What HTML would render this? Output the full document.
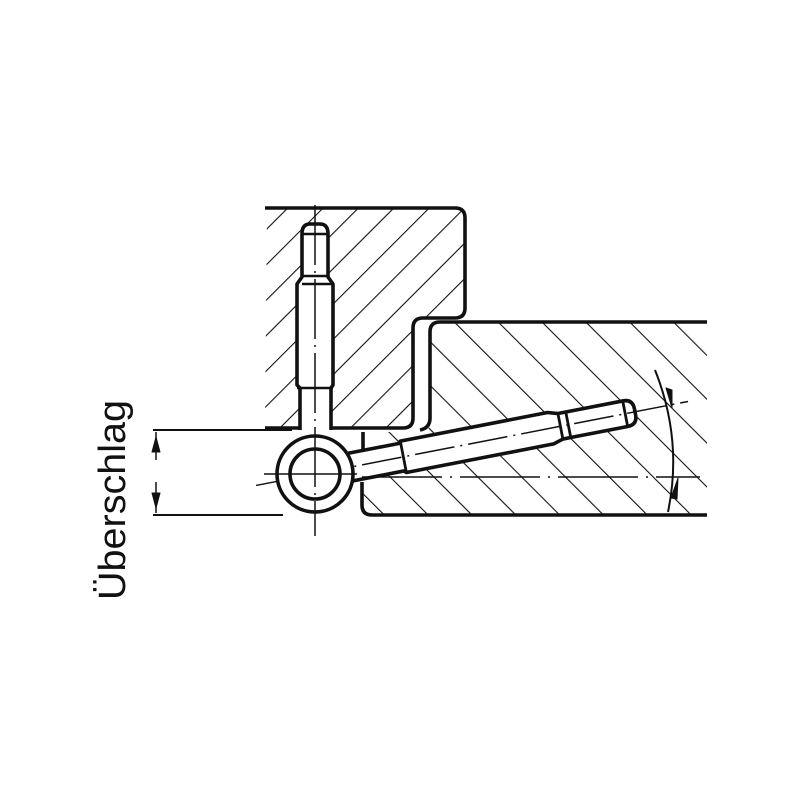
<!DOCTYPE html>
<html><head><meta charset="utf-8"><style>html,body{margin:0;padding:0;background:#fff}svg{display:block}</style></head>
<body>
<svg width="800" height="800" viewBox="0 0 800 800" xmlns="http://www.w3.org/2000/svg">
<defs>
<pattern id="h1" patternUnits="userSpaceOnUse" width="25" height="25" patternTransform="rotate(45)">
<line x1="0" y1="0" x2="0" y2="25" stroke="#111" stroke-width="2.2"/></pattern>
<pattern id="h2" patternUnits="userSpaceOnUse" width="31" height="31" patternTransform="rotate(-45)">
<line x1="0" y1="0" x2="0" y2="31" stroke="#111" stroke-width="2.2"/></pattern>
</defs>
<g fill="none" stroke="#111" stroke-width="3.6" stroke-linejoin="round">
<!-- top block -->
<path d="M267,208 L455,208 Q465,208 465,218 L465,308 Q465,318 455,318 L423,318 Q413,318 413,328 L413,418 Q413,428 403,428 L265,428 Z" fill="url(#h1)" stroke="none"/>
<path d="M265,208 L455,208 Q465,208 465,218 L465,308 Q465,318 455,318 L423,318 Q413,318 413,328 L413,418 Q413,428 403,428 L265,428"/>
<!-- lower block -->
<path d="M440,322 L707,322 L707,515 L372,515 Q362,515 362,505 L362,432 L420,432 Q430,432 430,422 L430,332 Q430,322 440,322 Z" fill="url(#h2)" stroke="none"/>
<path d="M707,322 L440,322 Q430,322 430,332 L430,418 Q430,428 420,430"/>
<path d="M707,515 L372,515 Q362,515 362,505 L362,482"/>
<path d="M363,432 L363,452"/>
<!-- vertical pin -->
<path d="M300,430 L300,388 L297,385 L297,284 L302,277 L302,234 Q302,224 310,224 L320,224 Q328,224 328,234 L328,277 L333,284 L333,385 L331,388 L331,430" fill="#fff"/>
<path d="M302,234 L328,234 M302,276 L328,276 M302,284 L333,284 M297,388 L333,388" stroke-width="2.5"/>
<!-- angled pin -->
<g transform="translate(315,474) rotate(-11)">
<path d="M30,-14 L88,-14 L90,-16 L240,-16 L250,-13 L258,-13 L316,-13 Q326,-13 326,-3 L326,3 Q326,13 316,13 L258,13 L250,13 L240,16 L90,16 L88,14 L30,14" fill="#fff"/>
<path d="M90,-16 L90,16 M250,-13 L250,13 M258,-13 L258,13 M316,-13 L316,13" stroke-width="2.8"/>
<line x1="-60" y1="0" x2="380" y2="0" stroke-width="1.5" stroke-dasharray="40,6,2,6"/>
</g>
<!-- ring -->
<circle cx="315" cy="474" r="38" fill="#fff"/>
<circle cx="315" cy="474" r="25"/>
<line x1="264" y1="474" x2="357" y2="474" stroke-width="1.5"/>
<line x1="315" y1="205" x2="315" y2="536" stroke-width="1.5" stroke-dasharray="60,6,2,6"/>
<line x1="362" y1="477" x2="700" y2="477" stroke-width="1.5" stroke-dasharray="80,8,2,8"/>
<!-- angle arc -->
<path d="M655,370 Q683,440 668,512" stroke-width="2"/>
<path d="M672,408 L666,388 L672,390 Z" fill="#111" stroke-width="1"/>
<path d="M678,478 L671,498 L677,499 Z" fill="#111" stroke-width="1"/>
<!-- left dimension -->
<line x1="153" y1="430" x2="292" y2="430" stroke-width="2"/>
<line x1="153" y1="515" x2="283" y2="515" stroke-width="2"/>
<line x1="156" y1="432" x2="156" y2="460" stroke-width="1.5"/>
<line x1="156" y1="482" x2="156" y2="513" stroke-width="1.5"/>
<path d="M156,437 L152,452 L160,452 Z" fill="#111" stroke-width="1"/>
<path d="M156,508 L152,493 L160,493 Z" fill="#111" stroke-width="1"/>
</g>
<text transform="translate(125,600) rotate(-90)" font-family="Liberation Sans, sans-serif" font-size="38" fill="#111" textLength="200" lengthAdjust="spacingAndGlyphs">Überschlag</text>
</svg>
</body></html>
